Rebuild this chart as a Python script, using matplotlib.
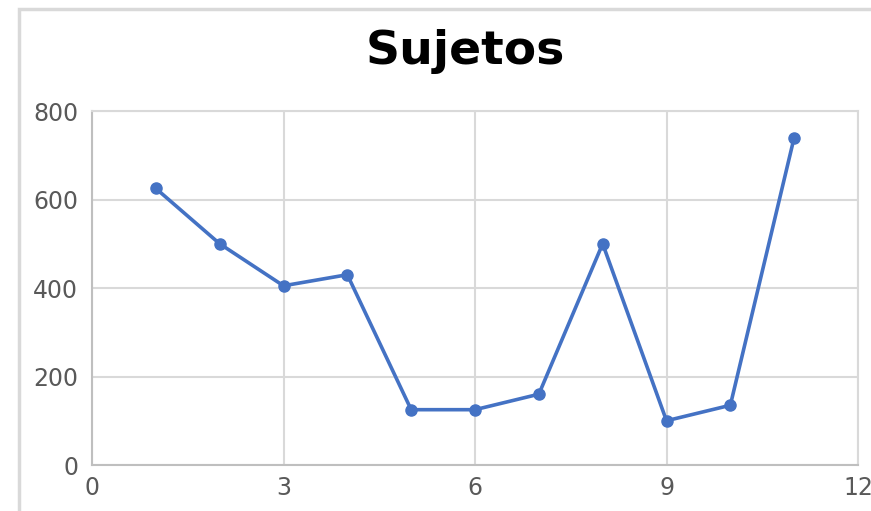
import matplotlib
matplotlib.use('Agg')
import matplotlib.pyplot as plt
from matplotlib.patches import Rectangle

# data
x_vals = [1, 2, 3, 4, 5, 6, 7, 8, 9, 10, 11]
sujetos = [625, 500, 405, 430, 125, 125, 160, 500, 100, 135, 740]
x_ticks = [0, 3, 6, 9, 12]
y_ticks = [0, 200, 400, 600, 800]

fig = plt.figure(figsize=(8.71, 5.11), dpi=100)
W, H = 871, 511

# outer chart border (Excel style)
fig.patches.append(Rectangle((19 / W, -0.1), 1.2, 1 - 9 / H + 0.1,
                             transform=fig.transFigure, fill=False,
                             edgecolor='#d9d9d9', linewidth=2.5))

ax = fig.add_axes([92 / W, 1 - 465 / H, (858 - 92) / W, (465 - 111) / H])
ax.plot(x_vals, sujetos, color='#4472C4', linewidth=2.6,
        marker='o', markersize=8, zorder=3)

ax.set_xlim(0, 12)
ax.set_ylim(0, 800)
ax.set_xticks(x_ticks)
ax.set_yticks(y_ticks)
ax.grid(True, color='#d9d9d9', linewidth=1.5)
ax.set_axisbelow(True)
for side in ['top', 'right']:
    ax.spines[side].set_color('#d9d9d9')
    ax.spines[side].set_linewidth(1.5)
for side in ['left', 'bottom']:
    ax.spines[side].set_color('#bfbfbf')
    ax.spines[side].set_linewidth(1.5)
ax.tick_params(length=0, labelsize=17, labelcolor='#595959')
ax.tick_params(axis='y', pad=10)
ax.tick_params(axis='x', pad=8)

fig.text(465 / W, 1 - 52 / H, 'Sujetos', ha='center', va='center',
         fontsize=34, fontweight='bold', color='black')

fig.savefig('out.png', dpi=100)
